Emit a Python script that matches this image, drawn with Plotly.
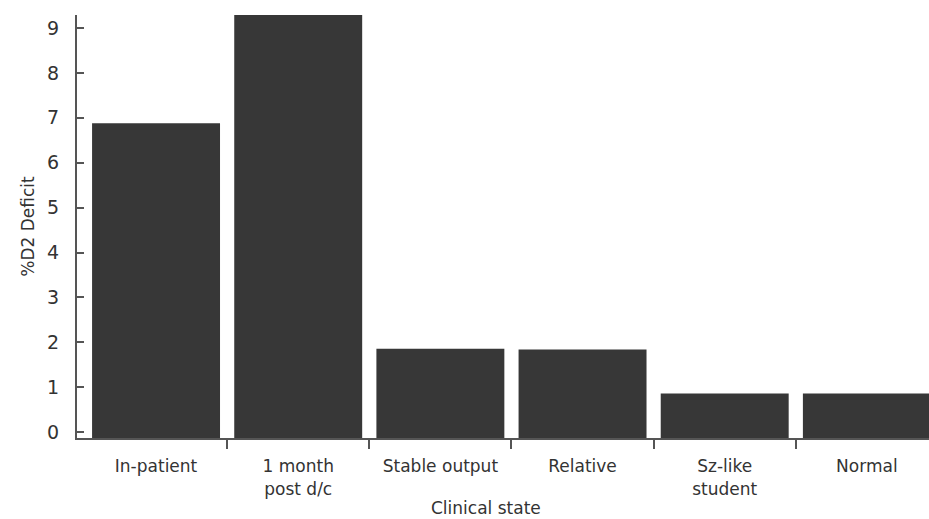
import plotly.graph_objects as go

categories = ["In-patient", "1 month<br>post d/c", "Stable output", "Relative", "Sz-like<br>student", "Normal"]
values = [6.88, 9.35, 1.86, 1.84, 0.86, 0.86]
y_ticks = [0, 1, 2, 3, 4, 5, 6, 7, 8, 9]
boundaries = [0.5, 1.5, 2.5, 3.5, 4.5]

Y_MIN = -0.13
Y_MAX = 9.29
X_RANGE = [-0.556, 5.437]
FONT = "DejaVu Sans"
INK = "#333333"

x_pos = list(range(len(categories)))
heights = [v - Y_MIN for v in values]

fig = go.Figure()
fig.add_trace(go.Bar(
    x=x_pos, y=heights, base=Y_MIN, width=0.9,
    marker=dict(color="#373737", line=dict(width=0)),
    hoverinfo="skip",
))
# transparent copy on the overlay axis so its boundary ticks are drawn
fig.add_trace(go.Bar(
    x=x_pos, y=heights, base=Y_MIN, width=0.9, xaxis="x2",
    marker=dict(color="rgba(0,0,0,0)", line=dict(width=0)), hoverinfo="skip",
))

fig.update_layout(
    width=929, height=519,
    margin=dict(l=77, r=0, t=15, b=81, autoexpand=False),
    paper_bgcolor="white", plot_bgcolor="white",
    showlegend=False,
    font=dict(family=FONT, size=18, color=INK),
    xaxis=dict(
        range=X_RANGE,
        tickvals=x_pos, ticktext=categories,
        ticks="", showgrid=False, zeroline=False,
        showline=True, linecolor="#555", linewidth=2,
        ticklabelstandoff=12,
        tickfont=dict(family=FONT, size=17, color=INK),
    ),
    xaxis2=dict(
        overlaying="x", anchor="y",
        range=X_RANGE,
        tickvals=boundaries, ticks="outside", ticklen=10, tickwidth=1.5, tickcolor="#555",
        showticklabels=False, showgrid=False, zeroline=False, showline=False,
    ),
    yaxis=dict(
        range=[Y_MIN, Y_MAX],
        tickvals=y_ticks,
        ticks="inside", ticklen=7, tickwidth=1.5, tickcolor="#555",
        showgrid=False, zeroline=False,
        showline=True, linecolor="#555", linewidth=2,
        ticklabelstandoff=12,
        tickfont=dict(family=FONT, size=19, color=INK),
        title=dict(text="%D2 Deficit", font=dict(family=FONT, size=17, color=INK), standoff=8),
    ),
    annotations=[dict(
        text="Clinical state", xref="paper", yref="paper",
        x=0.48, y=-0.165, xanchor="center", yanchor="middle",
        showarrow=False, font=dict(family=FONT, size=17, color=INK),
    )],
)

fig.write_html("out.html", config={"displayModeBar": False},
               post_script="document.body.style.margin='0';")
